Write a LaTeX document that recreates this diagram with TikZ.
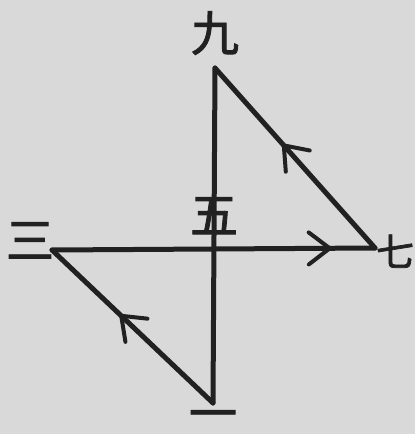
\documentclass[tikz,border=0pt]{standalone}
\usepackage{fontspec}
\newfontfamily\cjk[FakeBold=1.8]{Noto Sans CJK SC}
\usetikzlibrary{decorations.markings}

\definecolor{paper}{gray}{0.85}
\definecolor{ink}{gray}{0.13}

\begin{document}
\begin{tikzpicture}[x=1pt,y=-1pt,
  every node/.style={font=\cjk\fontsize{48}{48}\selectfont,text=ink,inner sep=0pt,
    anchor=base,text depth=0pt},
  stroke/.style={draw=ink,line width=5pt,line cap=round},
  midarrow/.style={decoration={markings,mark=at position #1 with
    {\draw[ink,line width=4pt,line cap=round,line join=miter]
      (-21pt,16pt) -- (0pt,0pt) -- (-21pt,-16pt);}},postaction=decorate}]
  \fill[paper] (0,0) rectangle (415,434);
  \useasboundingbox (0,0) rectangle (415,434);
  % numbers (placed by baseline)
  \node (nine) at (215,51) {九};
  \node (five) at (214,233) {五};
  \node (three) at (30,258) {三};
  \node[font=\cjk\fontsize{38}{38}\selectfont] (seven) at (395,266) {七};
  \node (one) at (213,431) {一};
  % line ends
  \coordinate (top) at (215,68);
  \coordinate (bot) at (213,403);
  \coordinate (lft) at (52,250);
  \coordinate (rgt) at (375,248);
  \draw[stroke] (top) -- (bot);
  \draw[stroke,midarrow=0.86] (lft) -- (rgt);
  \draw[stroke,midarrow=0.57] (rgt) -- (top);
  \draw[stroke,midarrow=0.57] (bot) -- (lft);
\end{tikzpicture}
\end{document}
